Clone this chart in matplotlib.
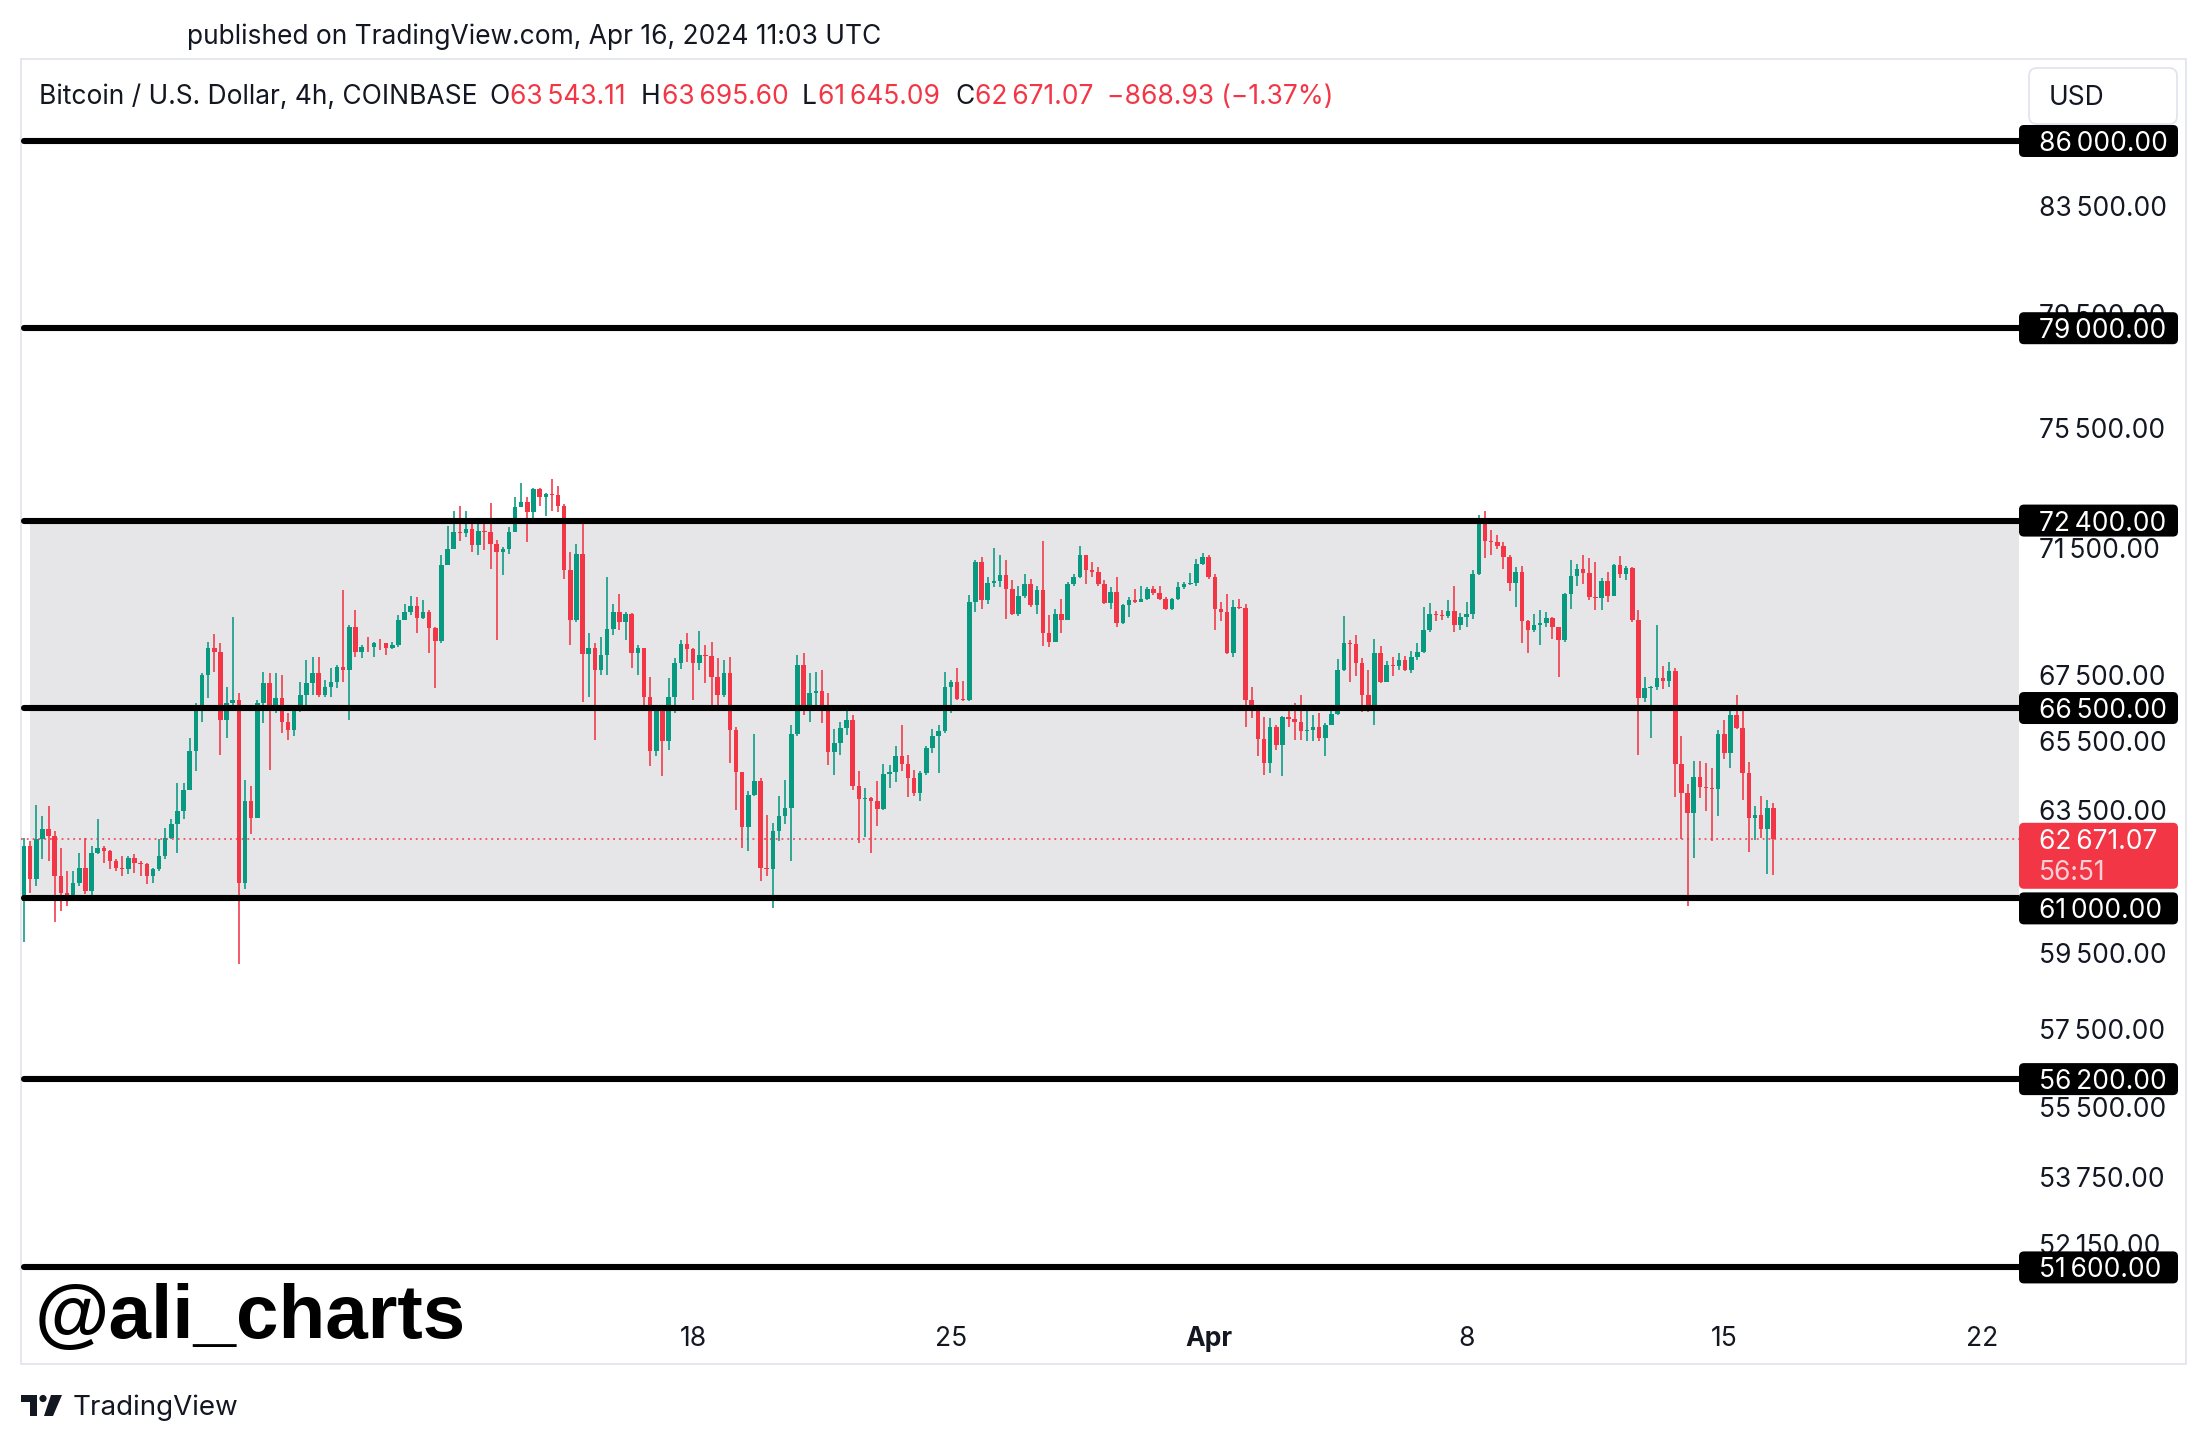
import numpy as np
import pandas as pd
import matplotlib
matplotlib.use('Agg')
import matplotlib.pyplot as plt
from matplotlib import transforms
from matplotlib.patches import FancyBboxPatch, Rectangle, Polygon, Circle

plt.rcParams['font.family'] = ['Inter', 'DejaVu Sans']

# BTC/USD 4h candles, Coinbase; first bar opens 2024-02-28 20:00 UTC
start = '2024-02-28 20:00'
first_open = 60930
closes = [
    62464, 61531, 62652, 62936, 62747, 61623, 61161, 61069, 61438, 61856,
    61207, 62276, 62417, 62323, 62042, 61856, 61810, 62136, 61996, 61949,
    61623, 61810, 62183, 62700, 63079, 63460, 64085, 65205, 66494, 67503,
    68322, 68219, 66145, 66645, 66746, 61438, 63748, 63270, 66645, 67250,
    66444, 66795, 66094, 65846, 66444, 66896, 67250, 67554, 66896, 67148,
    67300, 67758, 67656, 68993, 68219, 68372, 68352, 68496, 68475, 68322,
    68424, 69222, 69463, 69651, 69285, 69463, 68972, 68547, 70965, 71479,
    72020, 72000, 72128, 71587, 72074, 72020, 71640, 71373, 71479, 72020,
    72838, 73003, 72673, 73444, 73168, 73278, 73256, 72893, 70782, 69201,
    71320, 68147, 68322, 67656, 68116, 68941, 69463, 69149, 69389, 68188,
    68322, 66825, 65205, 66494, 65499, 66825, 67860, 68454, 68290, 67881,
    68116, 68090, 67432, 66896, 67554, 65826, 64589, 63012, 63940, 64326,
    61856, 61810, 62889, 63317, 63556, 65728, 67809, 66595, 66946, 67017,
    66494, 65175, 65450, 65895, 66145, 64181, 63815, 63844, 63748, 63527,
    64550, 64589, 65077, 64842, 64424, 63988, 64569, 65303, 65648, 65796,
    67148, 67300, 66765, 66735, 69777, 71050, 69851, 70381, 70443, 70623,
    70198, 69389, 69956, 70336, 69672, 70145, 68786, 68527, 69389, 69201,
    70336, 70570, 71263, 70782, 70729, 70336, 69746, 70093, 69118, 69672,
    69851, 69777, 69883, 70198, 70061, 69883, 69567, 69883, 70255, 70336,
    70381, 70977, 71210, 70570, 69567, 69463, 68167, 69620, 69599, 66746,
    66494, 65568, 64862, 65945, 65401, 66224, 66164, 66094, 65796, 65826,
    65945, 65598, 65995, 66324, 67656, 68475, 68444, 67860, 66896, 66444,
    68188, 67300, 67809, 67778, 67962, 67656, 68064, 68219, 68889, 69389,
    69368, 69326, 69494, 69045, 69306, 69410, 70655, 72346, 71726, 71705,
    71555, 71210, 70381, 70729, 69180, 68910, 69045, 69118, 69285, 68993,
    68579, 70040, 70591, 70836, 70697, 69935, 69914, 70443, 69956, 70944,
    70676, 70868, 69222, 66795, 67098, 67148, 67401, 67330, 67636, 64842,
    63988, 63413, 64453, 64162, 64133, 64104, 65728, 65155, 66294, 65896,
    64569, 63270, 63365, 62955, 63543.11, 62671.07,
]
highs = [
    62700, 62600, 63652, 63317, 63604, 62889, 62417, 61763, 61763, 62276,
    62700, 62464, 63222, 62464, 62345, 62089, 62183, 62183, 62230, 62042,
    61980, 61856, 62652, 62984, 63222, 64278, 64278, 65598, 66645, 67554,
    68527, 68785, 68475, 67148, 69306, 66946, 64375, 64181, 66746, 67605,
    67554, 67554, 67503, 66344, 66494, 67300, 67962, 68064, 68064, 67350,
    67707, 67809, 70145, 69045, 69515, 68424, 68682, 68527, 68630, 68496,
    68527, 69358, 69725, 69956, 69935, 69851, 69536, 68993, 71263, 72236,
    72728, 72893, 72728, 72455, 72400, 72346, 72970, 71769, 71533, 72182,
    73168, 73632, 73168, 73477, 73477, 73300, 73776, 73554, 72948, 71373,
    71640, 72346, 68786, 68496, 68682, 70570, 69725, 70040, 69463, 69420,
    68424, 68322, 67452, 66545, 66494, 67401, 68013, 68579, 68806, 68322,
    68868, 68424, 68527, 68013, 67962, 68064, 65945, 64589, 64037, 65728,
    64424, 63365, 63126, 63892, 64375, 65995, 68116, 68188, 67554, 67605,
    67656, 66946, 65866, 66094, 66595, 66294, 64618, 64133, 63873, 64326,
    64842, 64813, 65371, 65995, 65106, 64667, 64618, 65352, 65866, 65995,
    67605, 67350, 67707, 67330, 69988, 71103, 71210, 70570, 71512, 71263,
    71103, 70485, 70276, 70676, 70517, 70276, 71748, 69358, 69567, 69883,
    70411, 70676, 71555, 71263, 71050, 70889, 70464, 70255, 70570, 69704,
    69935, 70198, 70276, 70255, 70276, 70276, 69935, 69914, 70411, 70411,
    70697, 71157, 71341, 71263, 70676, 69777, 70040, 69830, 69883, 69704,
    67148, 66494, 66244, 66194, 65990, 66264, 66545, 66645, 66896, 66545,
    66294, 66344, 66044, 66424, 67983, 69326, 68579, 68734, 68013, 67656,
    68600, 68393, 67942, 68044, 68188, 68085, 68249, 68475, 69620, 69746,
    69494, 69515, 69851, 70276, 69431, 69777, 70804, 72598, 72728, 72096,
    71942, 71694, 71263, 70889, 70910, 69222, 69389, 69536, 69463, 69306,
    68993, 70061, 71103, 70996, 71263, 71189, 71050, 70549, 70729, 70977,
    71231, 70910, 70889, 69515, 67452, 67168, 69045, 67778, 67911, 67727,
    65648, 64240, 64910, 64910, 64862, 64716, 65826, 66145, 66595, 66896,
    66464, 64881, 63623, 63892, 63777, 63695.60,
]
lows = [
    59794, 61160, 61346, 62089, 62042, 60337, 60656, 60794, 61069, 61346,
    61115, 61069, 62230, 61996, 61810, 61763, 61623, 61669, 61716, 61623,
    61392, 61438, 61763, 62089, 62652, 62276, 63222, 64085, 64618, 66094,
    66795, 67605, 65106, 65598, 66494, 59212, 61253, 62795, 63270, 66044,
    64667, 66344, 65747, 65549, 65648, 66394, 66595, 66896, 66845, 66825,
    66845, 67098, 67300, 66145, 68064, 68013, 68219, 68064, 68270, 68116,
    68290, 68372, 69201, 69358, 68786, 69253, 68188, 67098, 68475, 70944,
    71479, 71748, 71855, 71373, 71266, 71426, 70836, 68579, 70623, 71320,
    72020, 72838, 71694, 72400, 72893, 72564, 72728, 72673, 70517, 68424,
    69149, 66696, 66825, 65549, 67503, 67503, 68734, 68889, 68579, 67707,
    67503, 66595, 64764, 65057, 64472, 65234, 66344, 67677, 67911, 66746,
    67656, 67250, 66595, 66565, 66845, 64862, 63508, 62417, 62323, 63892,
    61484, 61623, 60748, 62605, 63079, 62042, 65648, 66294, 66094, 66595,
    66044, 64813, 64521, 65106, 65697, 64085, 62558, 62728, 62258, 63031,
    63508, 64133, 64298, 64618, 63873, 63892, 63748, 64521, 65155, 64569,
    65747, 66344, 66746, 66700, 66700, 69463, 69567, 69725, 70255, 70255,
    69253, 69358, 69326, 69914, 69620, 69389, 68392, 68352, 68527, 68806,
    69201, 70276, 70549, 70361, 70570, 70276, 69704, 69567, 68993, 69076,
    69306, 69746, 69777, 69830, 69988, 69830, 69536, 69536, 69830, 70198,
    70308, 70276, 70944, 70517, 68889, 69180, 68147, 68064, 69567, 65945,
    66194, 65057, 64521, 64569, 65234, 64492, 65945, 65549, 65549, 65499,
    65499, 65499, 65077, 65995, 66294, 67636, 67300, 67472, 66394, 66394,
    65995, 67250, 67300, 67472, 67656, 67636, 67554, 67962, 68188, 68838,
    69180, 69201, 69285, 68838, 68889, 68993, 69253, 70623, 71189, 71263,
    71479, 70836, 70124, 69620, 68496, 68167, 68838, 68424, 68993, 68630,
    67432, 68527, 69567, 70276, 70361, 69851, 69515, 69536, 69777, 69956,
    70549, 70485, 69149, 65106, 66695, 65598, 67047, 67067, 67148, 63873,
    62652, 60794, 62136, 63844, 63460, 62605, 63317, 64979, 64716, 65866,
    63796, 62295, 62633, 62700, 61670, 61645.09,
]

# horizontal levels drawn on the chart, shaded range between two of them
levels = [86000, 79000, 72400, 66500, 61000, 56200, 51600]
zone = [61000, 72400]
price_ticks = [83500, 79500, 75500, 71500, 67500, 65500, 63500, 59500,
               57500, 55500, 53750, 52150]
date_ticks = ['2024-03-18', '2024-03-25', '2024-04-01', '2024-04-08',
              '2024-04-15', '2024-04-22']
date_labels = ['18', '25', 'Apr', '8', '15', '22']
header_ohlc = [('O', 63543.11), ('H', 63695.60), ('L', 61645.09), ('C', 62671.07)]
change, change_pct = -868.93, -1.37
countdown = '56:51'

GREEN = '#089981'
RED = '#f23645'
DARK = '#131722'
W, H = 2209, 1443
FS = 19
DROP = 3  # text sits a little lower than its box/line centre


def fmt(v):
    return f'{v:,.2f}'.replace(',', '\u2009')


def fx(px):
    return px / W


def fy(py):
    return 1 - py / H


fig = plt.figure(figsize=(W / 100, H / 100), dpi=100)
ax = fig.add_axes([fx(21), fy(1307), fx(2019) - fx(21), fy(59) - fy(1307)])
ax.set_yscale('log')

# candles
c = np.array(closes, float)
o = np.r_[first_open, c[:-1]]
hi = np.array(highs, float)
lo = np.array(lows, float)
x = np.arange(len(c))
col = np.where(c >= o, GREEN, RED)
ax.vlines(x, lo, hi, colors=col, lw=1.15, zorder=3)
ax.bar(x, np.maximum(np.abs(c - o), 20), bottom=np.minimum(o, c), width=0.74,
       color=col, linewidth=0, zorder=4)

# shaded range + levels + last price line
ax.add_patch(Rectangle((1, zone[0]), 400, zone[1] - zone[0], fc='#e6e6e9', ec='none', zorder=1))
ax.hlines(levels, 0, 400, colors='black', lw=4.4, zorder=6, capstyle='round')
ax.axhline(c[-1], color=RED, lw=1.1, ls=(0, (1.2, 2.6)), zorder=2)

ax.set_xlim(-0.49, 325)
ax.set_ylim(50682, 89258)
ax.axis('off')

# price scale
blend = transforms.blended_transform_factory(fig.transFigure, ax.transData)
blend_txt = transforms.offset_copy(blend, fig=fig, y=-DROP, units='dots')
for p in price_ticks:
    ax.text(fx(2039), p, fmt(p), transform=blend_txt, va='center', ha='left',
            fontsize=FS, color=DARK, clip_on=False)

ident = transforms.IdentityTransform()


def price_box(price, fc, dy=0, top=16, bottom=16):
    yd = ax.transData.transform((0, price))[1] + dy
    box = FancyBboxPatch((2019, yd - bottom), 159, top + bottom,
                         boxstyle='round,pad=0,rounding_size=5', fc=fc, ec='none',
                         transform=ident, zorder=2)
    fig.add_artist(box)
    return yd


for lv in levels:
    yd = price_box(lv, 'black', dy=-10 if lv == 61000 else 0)
    fig.text(fx(2039), (yd - DROP) / H, fmt(lv), color='white', fontsize=FS, va='center',
             ha='left', zorder=3)

yd = price_box(c[-1], RED, top=16, bottom=50)
fig.text(fx(2039), (yd - DROP) / H, fmt(c[-1]), color='white', fontsize=FS, va='center',
         ha='left', zorder=3)
fig.text(fx(2039), (yd - 31 - DROP) / H, countdown, color='#fcd0d5', fontsize=FS,
         va='center', ha='left', zorder=3)

# time scale
tblend = transforms.blended_transform_factory(ax.transData, fig.transFigure)
t0 = pd.Timestamp(start)
for d, lab in zip(date_ticks, date_labels):
    idx = (pd.Timestamp(d) - t0) / pd.Timedelta(hours=4)
    ax.text(idx, fy(1336 + DROP), lab, transform=tblend, ha='center', va='center',
            fontsize=FS, color=DARK, fontweight='bold' if lab == 'Apr' else 'normal',
            clip_on=False)

# frame, header, watermark
fig.add_artist(Rectangle((21, H - 1364), 2165, 1305, fill=False, ec='#e0e3eb', lw=1.2,
                         transform=ident, zorder=0))
fig.text(fx(187), fy(34 + DROP), 'published on TradingView.com, Apr 16, 2024 11:03 UTC',
         fontsize=FS, va='center', color=DARK)

hy = fy(94 + DROP)
fig.text(fx(39), hy, 'Bitcoin / U.S. Dollar, 4h, COINBASE', fontsize=FS,
         va='center', color=DARK)
renderer = fig.canvas.get_renderer()
key_x = [489, 641, 802, 955]
for (k, v), xk in zip(header_ohlc, key_x):
    tk = fig.text(fx(xk), hy, k, fontsize=FS, va='center', color=DARK)
    x1 = tk.get_window_extent(renderer).x1
    fig.text(fx(x1 + 1), hy, fmt(v), fontsize=FS, va='center', color=RED)
fig.text(fx(1107), hy, f'\u2212{abs(change):.2f} (\u2212{abs(change_pct):.2f}%)',
         fontsize=FS, va='center', color=RED)

fig.add_artist(FancyBboxPatch((2029, H - 124), 148, 56, boxstyle='round,pad=0,rounding_size=8',
                              fc='white', ec='#e0e3eb', lw=1.2, transform=ident))
fig.text(fx(2049), fy(95 + DROP), 'USD', fontsize=FS, va='center', color=DARK)

fig.text(fx(35), fy(1338), '@ali_charts', fontsize=55, fontweight='bold',
         family='Liberation Sans', va='baseline', color='black')

# TradingView logo
fig.add_artist(Polygon([(21, 48), (37, 48), (37, 27), (30, 27), (30, 41), (21, 41)],
                       closed=True, fc=DARK, ec='none', transform=ident))
fig.add_artist(Circle((43, 44.5), 3.6, fc=DARK, ec='none', transform=ident))
fig.add_artist(Polygon([(51, 48), (62, 48), (53, 27), (44, 27)], closed=True, fc=DARK,
                       ec='none', transform=ident))
fig.text(fx(73), fy(1405 + DROP), 'TradingView', fontsize=20, va='center', color=DARK)

fig.savefig('out.png', dpi=100)
